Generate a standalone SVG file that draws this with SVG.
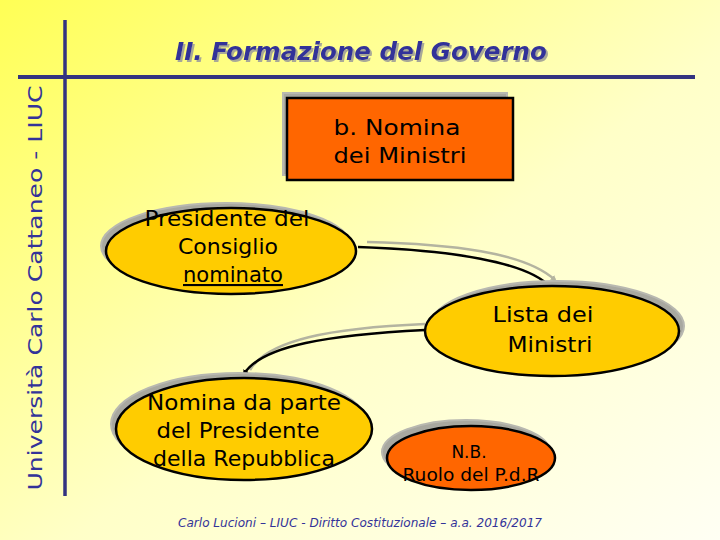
<svg xmlns="http://www.w3.org/2000/svg" width="720" height="540" viewBox="0 0 720 540">
<defs>
<linearGradient id="bg" x1="0" y1="0" x2="1" y2="1">
<stop offset="0" stop-color="#FFFF55"/>
<stop offset="0.55" stop-color="#FFFFC8"/>
<stop offset="1" stop-color="#FFFFF4"/>
</linearGradient>
<filter id="tsh" x="-5%" y="-20%" width="110%" height="140%">
<feDropShadow dx="2" dy="2" stdDeviation="0.4" flood-color="#a8a898"/>
</filter>
<marker id="ah" markerWidth="6" markerHeight="6" refX="4" refY="3" orient="auto" markerUnits="userSpaceOnUse">
<path d="M0,0 L6,3 L0,6 z" fill="#000"/>
</marker>
<marker id="ahs" markerWidth="6" markerHeight="6" refX="4" refY="3" orient="auto" markerUnits="userSpaceOnUse">
<path d="M0,0 L6,3 L0,6 z" fill="#b4b4a0"/>
</marker>
</defs>
<style>
.frame{stroke:#333380;fill:none}
.title{font-family:"DejaVu Sans",sans-serif;font-style:italic;font-weight:bold;font-size:24px;fill:#333399}
.side{font-family:"DejaVu Sans",sans-serif;font-size:20px;fill:#333399}
.lbl{font-family:"DejaVu Sans",sans-serif;font-size:21px;fill:#000;text-anchor:middle}
.nb{font-family:"DejaVu Sans",sans-serif;font-size:17px;fill:#000;text-anchor:middle}
.shadow{fill:#a8a8a0;stroke:#b8b8b0;stroke-width:2}
.ell{fill:#FFCC00;stroke:#000;stroke-width:2.5}
.orange{fill:#FF6600;stroke:#000;stroke-width:2.5}
.conn{fill:none;stroke:#000;stroke-width:2.5}
.connS{fill:none;stroke:#b4b4a0;stroke-width:2.5}
.foot{font-family:"DejaVu Sans",sans-serif;font-style:italic;font-size:12px;fill:#333399;text-anchor:middle}
</style>
<rect x="0" y="0" width="720" height="540" fill="url(#bg)"/>
<g id="frame">
<line class="frame" x1="65" y1="20" x2="65" y2="496" stroke-width="3.5"/>
<line class="frame" x1="18" y1="77" x2="695" y2="77" stroke-width="4"/>
</g>
<g id="title">
<text class="title" x="361" y="60" text-anchor="middle" textLength="372" lengthAdjust="spacingAndGlyphs" filter="url(#tsh)">II. Formazione del Governo</text>
</g>
<g id="sidebar">
<text class="side" transform="translate(42,288) rotate(-90)" text-anchor="middle" textLength="405" lengthAdjust="spacingAndGlyphs">Università Carlo Cattaneo - LIUC</text>
</g>
<g id="connectors">
<path class="connS" d="M367,242 C450,244 525,252 555,280" marker-end="url(#ahs)"/>
<path class="conn" d="M358,247 C450,250 528,262 550,287" marker-end="url(#ah)"/>
<path class="connS" d="M425,324 C330,328 268,340 250,370"/>
<path class="conn" d="M425,330 C330,335 262,345 244,374" marker-end="url(#ah)"/>
</g>
<g id="node-nomina-ministri">
<rect class="shadow" x="283" y="93" width="224" height="82"/>
<rect class="orange" x="287" y="98" width="226" height="82"/>
<text class="lbl" x="397" y="135" textLength="127" lengthAdjust="spacingAndGlyphs">b. Nomina</text>
<text class="lbl" x="400" y="163" textLength="133" lengthAdjust="spacingAndGlyphs">dei Ministri</text>
</g>
<g id="node-presidente">
<ellipse class="shadow" cx="226" cy="246" rx="125" ry="43"/>
<ellipse class="ell" cx="231" cy="251" rx="125" ry="43"/>
<text class="lbl" x="227" y="226" textLength="165" lengthAdjust="spacingAndGlyphs">Presidente del</text>
<text class="lbl" x="228" y="254" textLength="100" lengthAdjust="spacingAndGlyphs">Consiglio</text>
<text class="lbl" x="233" y="282" textLength="100" lengthAdjust="spacingAndGlyphs" text-decoration="underline">nominato</text>
</g>
<g id="node-lista">
<ellipse class="shadow" cx="557" cy="326" rx="127" ry="45"/>
<ellipse class="ell" cx="552" cy="331" rx="127" ry="45"/>
<text class="lbl" x="543" y="322" textLength="101" lengthAdjust="spacingAndGlyphs">Lista dei</text>
<text class="lbl" x="550" y="352" textLength="85" lengthAdjust="spacingAndGlyphs">Ministri</text>
</g>
<g id="node-nomina-pdr">
<ellipse class="shadow" cx="239" cy="424" rx="128" ry="51"/>
<ellipse class="ell" cx="244" cy="429" rx="128" ry="51"/>
<text class="lbl" x="244" y="410" textLength="194" lengthAdjust="spacingAndGlyphs">Nomina da parte</text>
<text class="lbl" x="238" y="438" textLength="163" lengthAdjust="spacingAndGlyphs">del Presidente</text>
<text class="lbl" x="244" y="466" textLength="182" lengthAdjust="spacingAndGlyphs">della Repubblica</text>
</g>
<g id="node-nb">
<ellipse class="shadow" cx="466" cy="452" rx="84" ry="32"/>
<ellipse class="orange" cx="471" cy="458" rx="84" ry="32"/>
<text class="nb" x="469" y="458">N.B.</text>
<text class="nb" x="471" y="481" textLength="137" lengthAdjust="spacingAndGlyphs">Ruolo del P.d.R</text>
</g>
<g id="footer">
<text class="foot" x="360" y="527" textLength="364" lengthAdjust="spacingAndGlyphs">Carlo Lucioni – LIUC - Diritto Costituzionale – a.a. 2016/2017</text>
</g>
</svg>
